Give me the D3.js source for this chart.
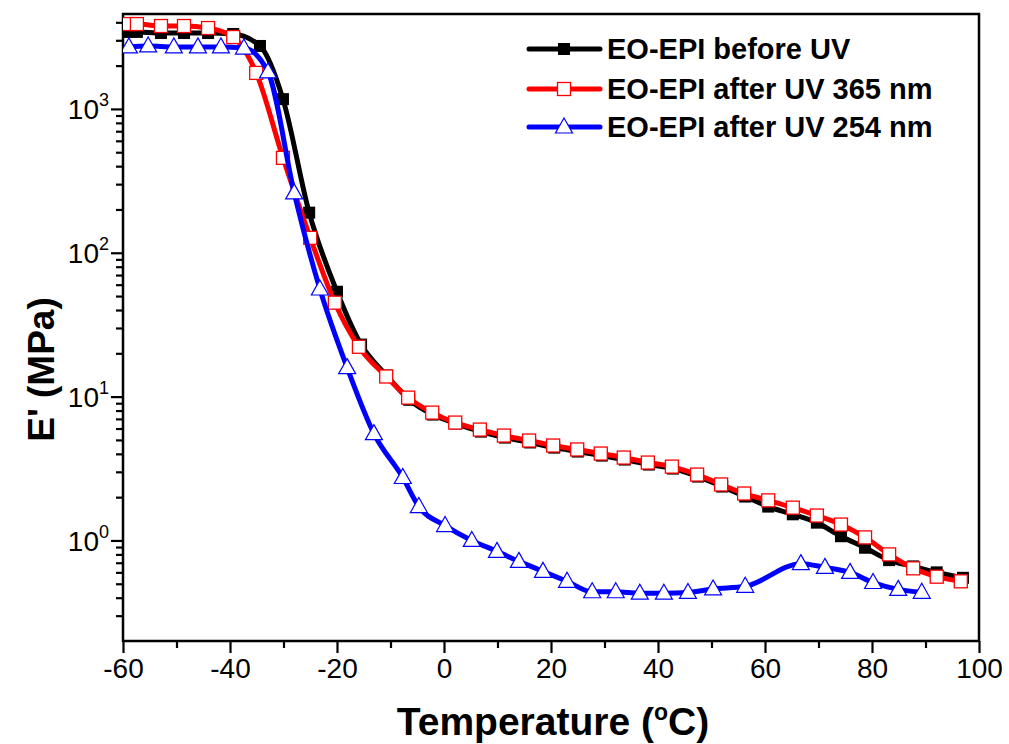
<!DOCTYPE html>
<html>
<head>
<meta charset="utf-8">
<script src="https://cdn.jsdelivr.net/npm/d3@7/dist/d3.min.js"></script>
<style>
  html, body { margin: 0; padding: 0; background: #fff; }
  svg { display: block; font-family: "Liberation Sans", Arial, sans-serif; }
</style>
</head>
<body>
<svg id="chart" width="1009" height="744"></svg>
<script>
// Storage modulus E' (MPa) vs temperature (°C) for EO-EPI films

const tempBefore = [-59.1, -57.4, -52.9, -48.6, -44.1, -39.4, -34.4, -30.1, -25.2, -20.0, -15.5, -10.7, -6.5, -2.1, 2.2, 6.9, 11.4, 16.1, 20.6, 25.0, 29.5, 33.8, 38.3, 42.8, 47.5, 52.0, 56.3, 60.6, 65.2, 69.7, 74.2, 78.7, 83.2, 87.7, 92.1, 97.0];
const modBefore  = [3430, 3430, 3370, 3370, 3370, 3320, 2740, 1170, 190, 53.6, 23.0, 14.0, 9.5, 7.5, 6.5, 5.71, 5.19, 4.80, 4.42, 4.15, 3.89, 3.65, 3.37, 3.16, 2.78, 2.37, 2.02, 1.72, 1.52, 1.33, 1.07, 0.89, 0.73, 0.66, 0.60, 0.55];

const temp365 = [-59.1, -57.4, -52.9, -48.6, -44.1, -39.4, -35.1, -30.1, -25.0, -20.4, -15.9, -10.8, -6.7, -2.2, 2.1, 6.7, 11.2, 15.9, 20.4, 24.9, 29.3, 33.6, 38.1, 42.6, 47.3, 51.8, 56.1, 60.6, 65.2, 69.7, 74.2, 78.7, 83.2, 87.7, 92.1, 96.6];
const mod365  = [3890, 3890, 3770, 3770, 3650, 3160, 1780, 457, 127, 45.0, 22.2, 13.8, 9.84, 7.74, 6.60, 5.90, 5.36, 4.95, 4.57, 4.29, 4.02, 3.77, 3.48, 3.26, 2.87, 2.45, 2.12, 1.90, 1.69, 1.49, 1.29, 1.05, 0.80, 0.64, 0.56, 0.52];

const temp254 = [-58.9, -55.3, -50.5, -46.0, -41.7, -37.4, -32.9, -28.0, -23.2, -18.1, -13.1, -7.7, -4.7, 0.2, 5.2, 9.9, 14.0, 18.5, 23.0, 27.7, 32.1, 36.6, 41.1, 45.6, 50.3, 56.3, 66.7, 71.2, 75.9, 80.2, 84.9, 89.3];
const mod254  = [2700, 2740, 2700, 2700, 2700, 2650, 1810, 261, 56, 15.9, 5.53, 2.74, 1.72, 1.27, 1.00, 0.84, 0.715, 0.61, 0.52, 0.44, 0.44, 0.43, 0.43, 0.435, 0.46, 0.48, 0.69, 0.65, 0.60, 0.51, 0.457, 0.436];

const seriesNames = ["EO-EPI before UV", "EO-EPI after UV 365 nm", "EO-EPI after UV 254 nm"];
const seriesColors = ["#000000", "#ff0000", "#0000ff"];

const xMajorTicks = [-60, -40, -20, 0, 20, 40, 60, 80, 100];
const xMinorTicks = [-50, -30, -10, 10, 30, 50, 70, 90];
const yMajorTicks = [1, 10, 100, 1000];
const yExponents  = ["0", "1", "2", "3"];
const yMinorTicks = [0.3, 0.4, 0.5, 0.6, 0.7, 0.8, 0.9, 2, 3, 4, 5, 6, 7, 8, 9, 20, 30, 40, 50, 60, 70, 80, 90, 200, 300, 400, 500, 600, 700, 800, 900, 2000, 3000, 4000];

const xTitle = "Temperature (";
const yTitle = "E' (MPa)";

const svg = d3.select("#chart");
const plot = { left: 123, right: 979, top: 14, bottom: 641 };

const x = d3.scaleLinear().domain([-60, 100]).range([plot.left, plot.right]);
const y = d3.scaleLog().domain([0.2, 4570]).range([plot.bottom, plot.top]);

const font = '"Liberation Sans", Arial, sans-serif';

// frame
svg.append("rect")
  .attr("x", plot.left).attr("y", plot.top)
  .attr("width", plot.right - plot.left).attr("height", plot.bottom - plot.top)
  .attr("fill", "none").attr("stroke", "#000").attr("stroke-width", 2.5);

// x axis
const xAxisG = svg.append("g").attr("transform", `translate(0,${plot.bottom})`);
xAxisG.call(d3.axisBottom(x).tickValues(xMajorTicks).tickSize(12).tickPadding(5).tickFormat(d => d));
xAxisG.select(".domain").remove();
xAxisG.selectAll(".tick line").attr("stroke-width", 2.2);
xAxisG.selectAll(".tick text").attr("font-family", font).attr("font-size", 28).attr("fill", "#000");
const xMinorG = svg.append("g").attr("transform", `translate(0,${plot.bottom})`);
xMinorG.call(d3.axisBottom(x).tickValues(xMinorTicks).tickSize(7).tickFormat(""));
xMinorG.select(".domain").remove();
xMinorG.selectAll(".tick line").attr("stroke-width", 2.2);

// y axis
const yAxisG = svg.append("g").attr("transform", `translate(${plot.left},0)`);
yAxisG.call(d3.axisLeft(y).tickValues(yMajorTicks).tickSize(12).tickPadding(5).tickFormat(""));
yAxisG.select(".domain").remove();
yAxisG.selectAll(".tick line").attr("stroke-width", 2.2);
yAxisG.selectAll(".tick").each(function(d, i) {
  const t = d3.select(this).append("text")
    .attr("x", -14).attr("y", 10)
    .attr("text-anchor", "end")
    .attr("font-family", font).attr("fill", "#000");
  t.append("tspan").attr("font-size", 28).text("10");
  t.append("tspan").attr("font-size", 18).attr("dy", -13).text(yExponents[i]);
});
const yMinorG = svg.append("g").attr("transform", `translate(${plot.left},0)`);
yMinorG.call(d3.axisLeft(y).tickValues(yMinorTicks).tickSize(7).tickFormat(""));
yMinorG.select(".domain").remove();
yMinorG.selectAll(".tick line").attr("stroke-width", 2.2);

// axis titles
const xt = svg.append("text")
  .attr("x", (plot.left + plot.right) / 2 + 2).attr("y", 735)
  .attr("text-anchor", "middle")
  .attr("font-family", font).attr("font-weight", "bold").attr("font-size", 39).attr("fill", "#000");
xt.append("tspan").text(xTitle);
xt.append("tspan").attr("font-size", 23).attr("dy", -15).text("o");
xt.append("tspan").attr("dy", 15).text("C)");

svg.append("text")
  .attr("transform", `translate(54,${(plot.top + plot.bottom) / 2 + 42}) rotate(-90)`)
  .attr("text-anchor", "middle")
  .attr("font-family", font).attr("font-weight", "bold").attr("font-size", 37).attr("fill", "#000")
  .text(yTitle);

// series
const series = [
  { name: seriesNames[0], t: tempBefore, v: modBefore, color: seriesColors[0], marker: "filledSquare" },
  { name: seriesNames[1], t: temp365, v: mod365, color: seriesColors[1], marker: "openSquare" },
  { name: seriesNames[2], t: temp254, v: mod254, color: seriesColors[2], marker: "openTriangle" }
];

const lineGen = d3.line().x(d => x(d[0])).y(d => y(d[1])).curve(d3.curveMonotoneX);

function drawMarker(g, kind, color, cx, cy) {
  if (kind === "filledSquare") {
    g.append("rect").attr("x", cx - 6).attr("y", cy - 6).attr("width", 12).attr("height", 12)
      .attr("fill", color);
  } else if (kind === "openSquare") {
    g.append("rect").attr("x", cx - 6.5).attr("y", cy - 6.5).attr("width", 13).attr("height", 13)
      .attr("fill", "#fff").attr("stroke", color).attr("stroke-width", 1.3);
  } else {
    g.append("path")
      .attr("d", `M${cx},${cy - 9}L${cx + 8.5},${cy + 6}L${cx - 8.5},${cy + 6}Z`)
      .attr("fill", "#fff").attr("stroke", color).attr("stroke-width", 1.2);
  }
}

svg.append("clipPath").attr("id", "plotClip")
  .append("rect").attr("x", plot.left).attr("y", plot.top)
  .attr("width", plot.right - plot.left).attr("height", plot.bottom - plot.top);

series.forEach(s => {
  const pts = s.t.map((t, i) => [t, s.v[i]]);
  const g = svg.append("g").attr("clip-path", "url(#plotClip)");
  g.append("path").attr("d", lineGen(pts))
    .attr("fill", "none").attr("stroke", s.color).attr("stroke-width", 5)
    .attr("stroke-linejoin", "round").attr("stroke-linecap", "round");
  pts.forEach(p => drawMarker(g, s.marker, s.color, x(p[0]), y(p[1])));
});

// legend
const legendRows = [49, 89, 127];
series.forEach((s, i) => {
  const ly = legendRows[i];
  const g = svg.append("g");
  g.append("line").attr("x1", 529).attr("x2", 600).attr("y1", ly).attr("y2", ly)
    .attr("stroke", s.color).attr("stroke-width", 5).attr("stroke-linecap", "round");
  drawMarker(g, s.marker, s.color, 564, ly);
  g.append("text").attr("x", 607).attr("y", ly + 10)
    .attr("font-family", font).attr("font-weight", "bold").attr("font-size", 29).attr("fill", "#000")
    .text(s.name);
});
</script>
</body>
</html>
